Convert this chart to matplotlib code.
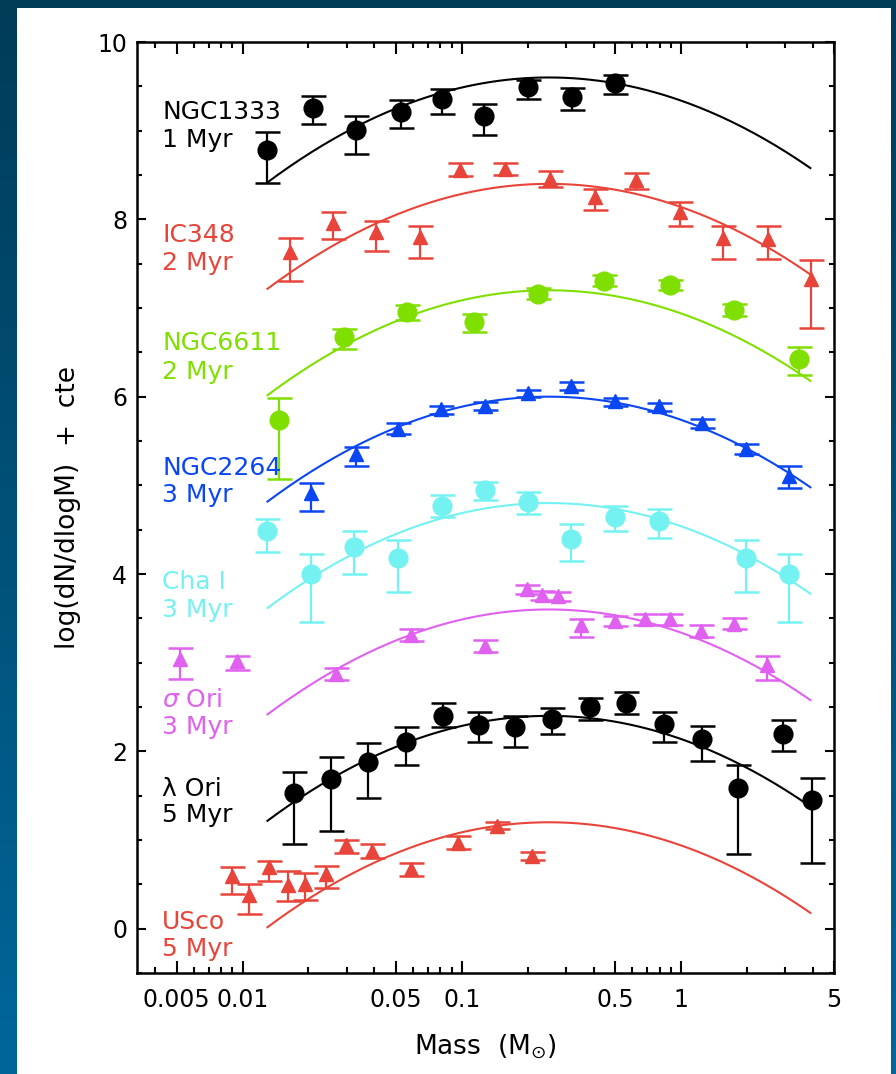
import numpy as np
import matplotlib
matplotlib.use("Agg")
import matplotlib.pyplot as plt
from matplotlib.patches import Rectangle
from matplotlib.ticker import FixedLocator, FixedFormatter, LogLocator, MultipleLocator, NullFormatter

plt.rcParams['font.family'] = ['DejaVu Sans']

# --- cluster data: mass (Msun), log(dN/dlogM)+cte, lower / upper error ---
ngc1333_m = [0.013, 0.021, 0.033, 0.053, 0.081, 0.127, 0.20, 0.32, 0.50]
ngc1333_v = [8.78, 9.26, 9.01, 9.21, 9.36, 9.16, 9.49, 9.38, 9.54]
ngc1333_lo = [0.37, 0.18, 0.27, 0.18, 0.17, 0.21, 0.13, 0.15, 0.13]
ngc1333_hi = [0.21, 0.13, 0.15, 0.14, 0.11, 0.14, 0.08, 0.10, 0.09]

ic348_m = [0.0164, 0.0259, 0.0405, 0.0643, 0.0986, 0.158, 0.253, 0.405, 0.626, 0.987, 1.56, 2.5, 3.91]
ic348_v = [7.63, 7.96, 7.86, 7.80, 8.56, 8.57, 8.46, 8.25, 8.44, 8.08, 7.79, 7.78, 7.33]
ic348_lo = [0.32, 0.18, 0.22, 0.24, 0.07, 0.07, 0.09, 0.14, 0.10, 0.15, 0.24, 0.23, 0.56]
ic348_hi = [0.16, 0.12, 0.12, 0.13, 0.08, 0.07, 0.08, 0.09, 0.08, 0.11, 0.14, 0.15, 0.21]

ngc6611_m = [0.0147, 0.0289, 0.0564, 0.1135, 0.224, 0.447, 0.889, 1.75, 3.46]
ngc6611_v = [5.74, 6.67, 6.96, 6.84, 7.16, 7.31, 7.26, 6.98, 6.43]
ngc6611_lo = [0.67, 0.13, 0.09, 0.11, 0.06, 0.06, 0.06, 0.07, 0.18]
ngc6611_hi = [0.25, 0.09, 0.07, 0.09, 0.06, 0.06, 0.06, 0.07, 0.13]

ngc2264_m = [0.0205, 0.0329, 0.0514, 0.0809, 0.128, 0.2017, 0.317, 0.50, 0.792, 1.245, 1.98, 3.12]
ngc2264_v = [4.91, 5.35, 5.64, 5.86, 5.90, 6.04, 6.12, 5.95, 5.89, 5.70, 5.41, 5.11]
ngc2264_lo = [0.20, 0.13, 0.06, 0.05, 0.05, 0.04, 0.04, 0.05, 0.05, 0.05, 0.06, 0.14]
ngc2264_hi = [0.12, 0.08, 0.06, 0.04, 0.04, 0.04, 0.04, 0.04, 0.04, 0.05, 0.06, 0.11]

chai_m = [0.013, 0.0205, 0.0323, 0.0514, 0.081, 0.128, 0.2017, 0.317, 0.50, 0.792, 1.98, 3.12]
chai_v = [4.48, 4.00, 4.30, 4.18, 4.77, 4.95, 4.81, 4.40, 4.64, 4.60, 4.18, 4.00]
chai_lo = [0.23, 0.54, 0.30, 0.38, 0.13, 0.12, 0.13, 0.25, 0.15, 0.19, 0.38, 0.54]
chai_hi = [0.14, 0.22, 0.18, 0.20, 0.12, 0.09, 0.12, 0.16, 0.13, 0.13, 0.20, 0.22]

sori_m = [0.0052, 0.0094, 0.0267, 0.0585, 0.128, 0.198, 0.232, 0.276, 0.35, 0.50, 0.684, 0.889, 1.237, 1.74, 2.47]
sori_v = [3.04, 3.02, 2.87, 3.31, 3.19, 3.83, 3.76, 3.75, 3.42, 3.47, 3.49, 3.49, 3.36, 3.44, 2.97]
sori_lo = [0.22, 0.10, 0.07, 0.07, 0.07, 0.05, 0.05, 0.05, 0.13, 0.06, 0.06, 0.06, 0.07, 0.06, 0.17]
sori_hi = [0.12, 0.06, 0.07, 0.07, 0.07, 0.05, 0.05, 0.05, 0.07, 0.06, 0.06, 0.06, 0.07, 0.06, 0.10]

lori_m = [0.0172, 0.0253, 0.0375, 0.0555, 0.082, 0.12, 0.175, 0.259, 0.385, 0.564, 0.834, 1.245, 1.83, 2.94, 3.98]
lori_v = [1.53, 1.69, 1.88, 2.11, 2.40, 2.30, 2.27, 2.36, 2.50, 2.55, 2.31, 2.14, 1.59, 2.20, 1.45]
lori_lo = [0.57, 0.59, 0.41, 0.26, 0.12, 0.19, 0.22, 0.17, 0.15, 0.13, 0.20, 0.25, 0.75, 0.20, 0.71]
lori_hi = [0.24, 0.25, 0.21, 0.17, 0.14, 0.14, 0.13, 0.13, 0.10, 0.12, 0.13, 0.15, 0.26, 0.15, 0.25]

usco_m = [0.0090, 0.0107, 0.0132, 0.0162, 0.0193, 0.024, 0.0296, 0.0391, 0.059, 0.0962, 0.145, 0.209]
usco_v = [0.59, 0.38, 0.69, 0.49, 0.50, 0.62, 0.94, 0.88, 0.67, 0.97, 1.16, 0.82]
usco_lo = [0.20, 0.21, 0.15, 0.18, 0.18, 0.16, 0.09, 0.08, 0.08, 0.07, 0.04, 0.05]
usco_hi = [0.10, 0.12, 0.07, 0.16, 0.13, 0.09, 0.06, 0.07, 0.07, 0.07, 0.04, 0.05]

names = ['NGC1333', 'IC348', 'NGC6611', 'NGC2264', 'Cha I', r'$\sigma$ Ori', 'λ Ori', 'USco']
ages = ['1 Myr', '2 Myr', '2 Myr', '3 Myr', '3 Myr', '3 Myr', '5 Myr', '5 Myr']

# log-normal system IMF overlaid on each cluster (peak level per cluster)
imf_peak = [9.6, 8.4, 7.2, 6.0, 4.8, 3.6, 2.4, 1.2]
imf_mc = 0.25
imf_sigma = 0.55
imf_range = (0.013, 3.9)

clusters = [
    (ngc1333_m, ngc1333_v, ngc1333_lo, ngc1333_hi),
    (ic348_m, ic348_v, ic348_lo, ic348_hi),
    (ngc6611_m, ngc6611_v, ngc6611_lo, ngc6611_hi),
    (ngc2264_m, ngc2264_v, ngc2264_lo, ngc2264_hi),
    (chai_m, chai_v, chai_lo, chai_hi),
    (sori_m, sori_v, sori_lo, sori_hi),
    (lori_m, lori_v, lori_lo, lori_hi),
    (usco_m, usco_v, usco_lo, usco_hi),
]

colors = ['#000000', '#e8443a', '#7fe000', '#0a46f2', '#74f2f2', '#e060f0', '#000000', '#e8443a']
markers = ['o', '^', 'o', '^', 'o', '^', 'o', '^']
# vertical positions of the two label lines (name, age)
label_y = [(9.21, 8.89), (7.82, 7.51), (6.60, 6.28), (5.20, 4.89),
           (3.91, 3.59), (2.58, 2.27), (1.57, 1.28), (0.07, -0.23)]


def lognormal(m, peak):
    return peak - np.log10(np.e) * (np.log10(m) - np.log10(imf_mc)) ** 2 / (2 * imf_sigma ** 2)


fig = plt.figure(figsize=(8.96, 10.74), dpi=100)

# dark blue backdrop with a white panel
bg = fig.add_axes([0, 0, 1, 1], zorder=0)
grad = np.linspace(0, 1, 256).reshape(-1, 1)
bg.imshow(grad, aspect='auto', extent=[0, 1, 0, 1],
          cmap=matplotlib.colors.LinearSegmentedColormap.from_list('bgc', ['#00669a', '#003c58']),
          origin='lower')
bg.add_patch(Rectangle((17 / 896, 0), (891 - 17) / 896, 1 - 8 / 1074, facecolor='white', edgecolor='none'))
bg.set_xlim(0, 1)
bg.set_ylim(0, 1)
bg.axis('off')

ax = fig.add_axes([137 / 896, 1 - 973 / 1074, 697 / 896, 931 / 1074], zorder=1)
ax.set_xscale('log')

mgrid = np.logspace(np.log10(imf_range[0]), np.log10(imf_range[1]), 200)
for (m, v, lo, hi), peak, c, mk in zip(clusters, imf_peak, colors, markers):
    ax.plot(mgrid, lognormal(mgrid, peak), color=c, lw=1.5, zorder=2)
    ms = 13.5 if mk == 'o' else 10
    ax.errorbar(m, v, yerr=[lo, hi], fmt=mk, color=c, ms=ms, mec=c, mfc=c,
                ecolor=c, elinewidth=1.6, capsize=9, capthick=1.8, zorder=3)

for name, age, (yn, ya), c in zip(names, ages, label_y, colors):
    ax.text(0.036, yn, name, transform=ax.get_yaxis_transform(), color=c,
            fontsize=18, ha='left', va='center')
    ax.text(0.036, ya, age, transform=ax.get_yaxis_transform(), color=c,
            fontsize=18, ha='left', va='center')

ax.set_xlim(0.0033, 5)
ax.set_ylim(-0.5, 10)

xt = [0.005, 0.01, 0.05, 0.1, 0.5, 1, 5]
ax.xaxis.set_major_locator(FixedLocator(xt))
ax.xaxis.set_major_formatter(FixedFormatter(['0.005', '0.01', '0.05', '0.1', '0.5', '1', '5']))
ax.xaxis.set_minor_locator(LogLocator(base=10, subs=np.arange(2, 10), numticks=20))
ax.xaxis.set_minor_formatter(NullFormatter())
ax.yaxis.set_major_locator(MultipleLocator(2))
ax.yaxis.set_minor_locator(MultipleLocator(0.5))

ax.tick_params(which='both', direction='in', top=True, right=True, width=1.5, labelsize=17)
ax.tick_params(axis='x', which='major', length=8.5, pad=11)
ax.tick_params(axis='x', which='minor', length=4.5)
ax.tick_params(axis='y', which='major', length=6.5, pad=7)
ax.tick_params(axis='y', which='minor', length=3.8)
for s in ax.spines.values():
    s.set_linewidth(1.8)

ax.set_xlabel(r'Mass  (M$_{\odot}$)', fontsize=19, labelpad=14)
ax.set_ylabel('log(dN/dlogM)  +  cte', fontsize=19, labelpad=12)

fig.savefig('out.png', dpi=100)
